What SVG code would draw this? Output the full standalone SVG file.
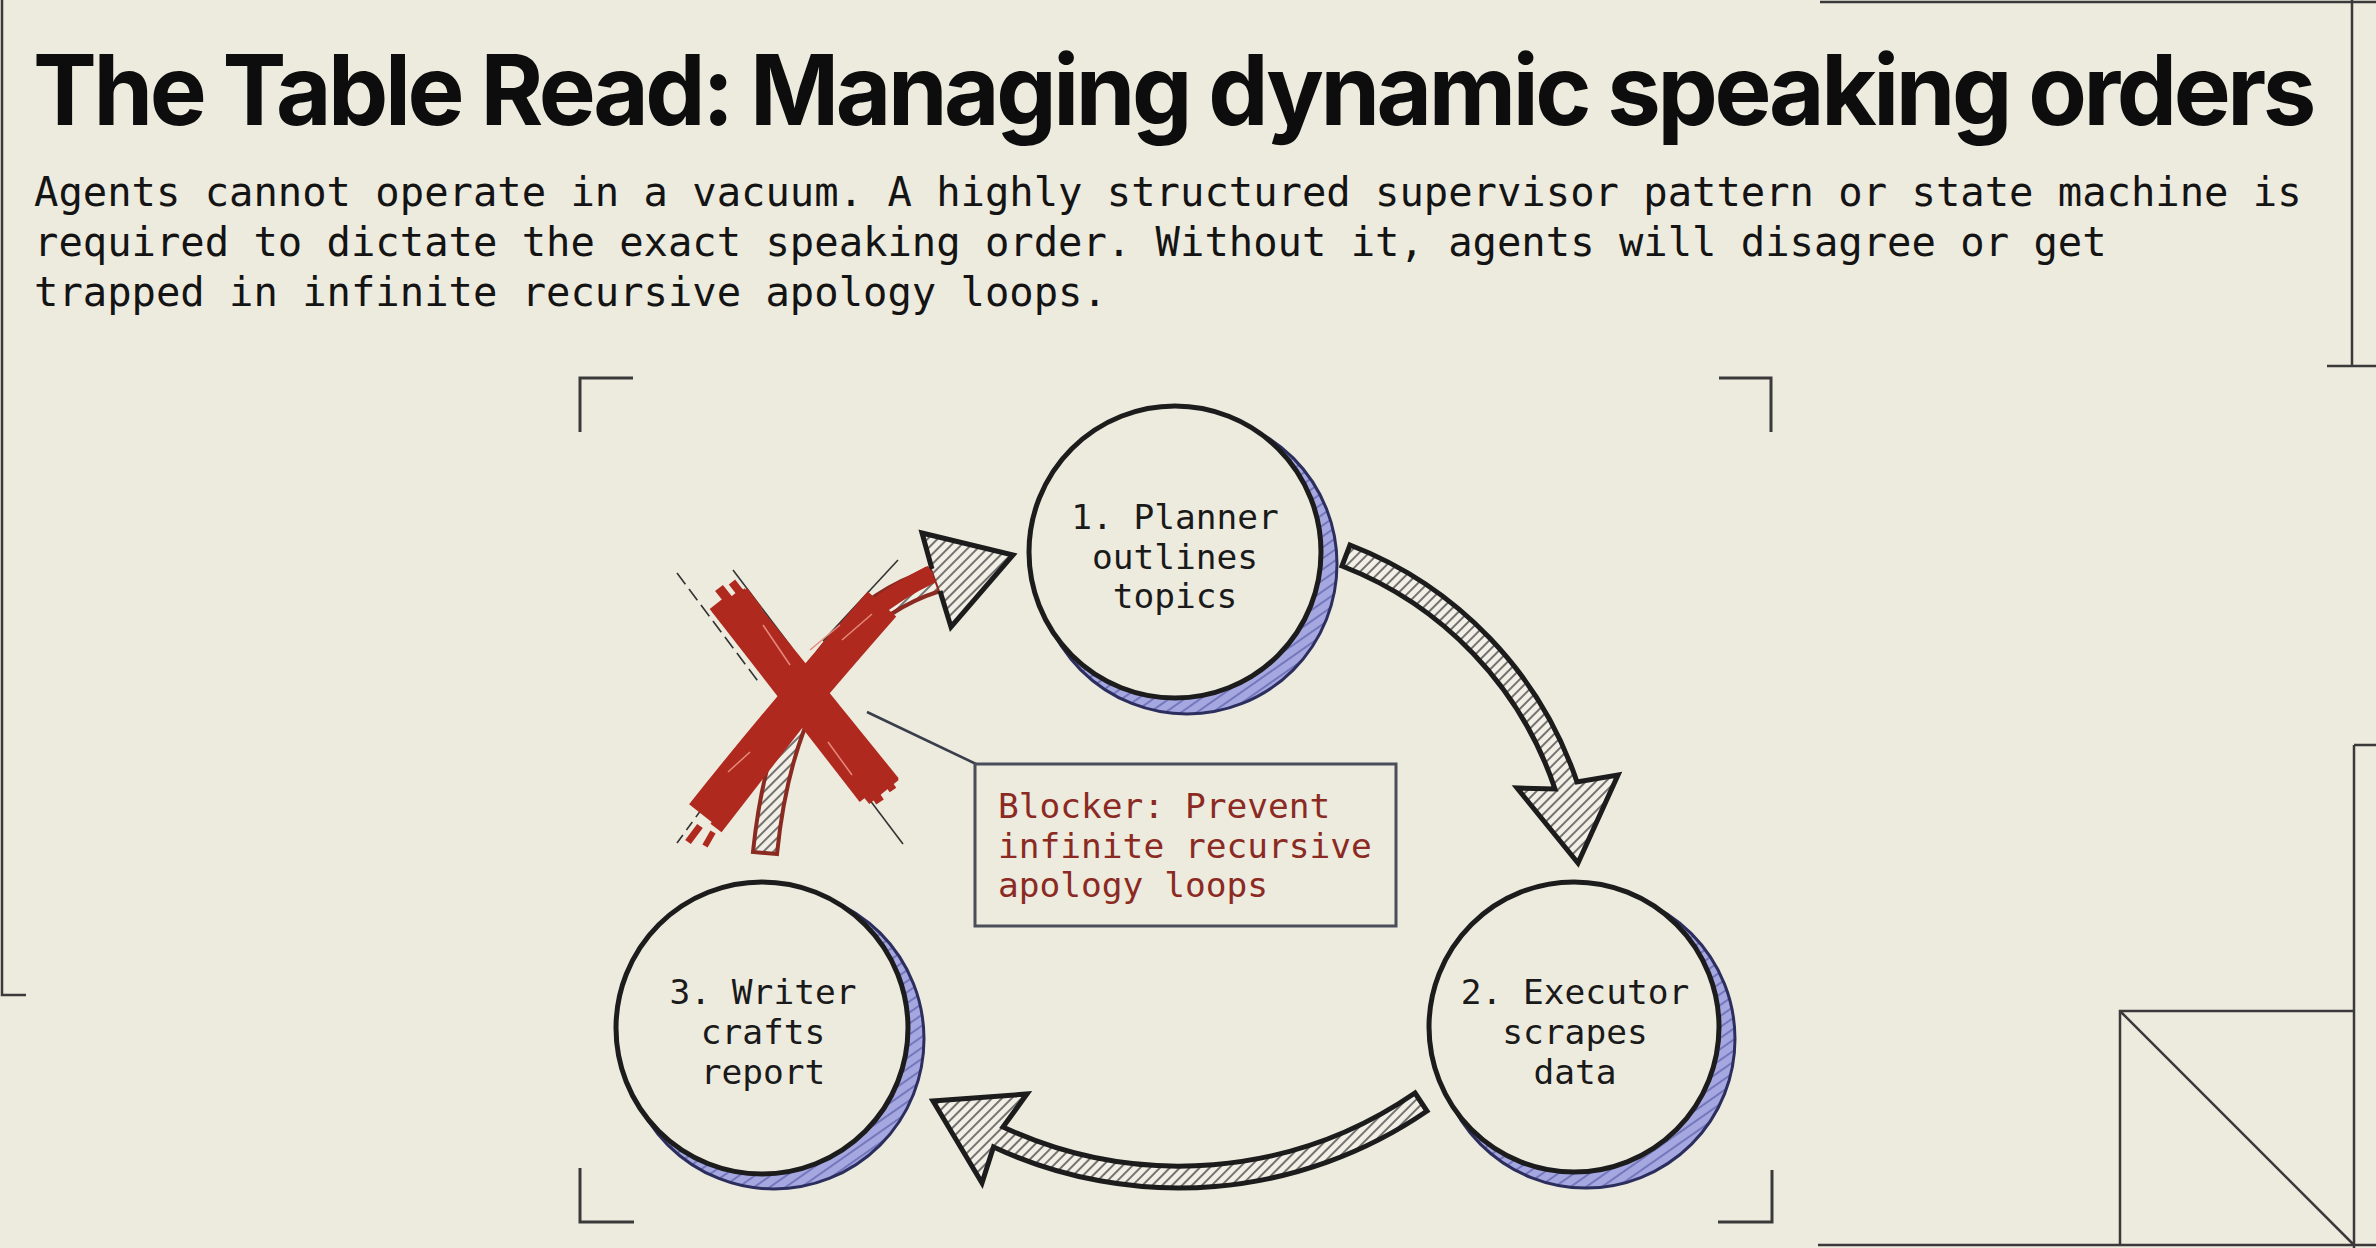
<svg xmlns="http://www.w3.org/2000/svg" width="2376" height="1248" viewBox="0 0 2376 1248">
<defs>
<pattern id="hatch" patternUnits="userSpaceOnUse" width="7" height="7" patternTransform="rotate(45)">
<rect width="7" height="7" fill="#F1EFE6"/>
<line x1="1" y1="0" x2="1" y2="7" stroke="#4a4a4a" stroke-width="1.5"/>
</pattern>
<pattern id="shadeHatch" patternUnits="userSpaceOnUse" width="9" height="9" patternTransform="rotate(55)">
<rect width="9" height="9" fill="#A5A7E0"/>
<line x1="1" y1="0" x2="1" y2="9" stroke="#5A5DA8" stroke-width="1.3"/>
</pattern>
<style>
.frame{fill:none;stroke:#3a3a3a;stroke-width:2.5}
.bracket{fill:none;stroke:#3a3a3a;stroke-width:3}
.title{font-family:Inter,"Liberation Sans",sans-serif;font-weight:700;font-size:98px;letter-spacing:-3.5px;fill:#0d0d0d}
.sub{font-family:"DejaVu Sans Mono","Liberation Mono",monospace;font-size:40.5px;fill:#141414}
.node-text{font-family:"DejaVu Sans Mono","Liberation Mono",monospace;font-size:34.5px;fill:#1a1a1a;text-anchor:middle}
.shadow{fill:url(#shadeHatch);stroke:#2C2E5E;stroke-width:3}
.disc{fill:#EDEADE;stroke:#1c1c1c;stroke-width:5}
.arrow{fill:url(#hatch);stroke:#1c1c1c;stroke-width:5;stroke-linejoin:miter}
.red{fill:none;stroke:#B0291F;stroke-linecap:butt}
.hl{fill:none;stroke:#E58A7C;stroke-width:1.5}
.pencil{fill:none;stroke:#333;stroke-width:1.6}
.blk-text{font-family:"DejaVu Sans Mono","Liberation Mono",monospace;font-size:34.5px;fill:#8B2A23}
</style>
</defs>
<rect width="2376" height="1248" fill="#EDEADE"/>

<g id="frame">
<path class="frame" d="M2,0 V995 H26"/>
<path class="frame" d="M1820,2 H2376 M2352,0 V366 M2327,366 H2376"/>
<path class="frame" d="M1818,1245 H2376 M2354,745 V1248 M2354,745 H2376"/>
<path class="frame" d="M2120,1245 V1011 H2354 M2120,1011 L2354,1245"/>
</g>

<g id="brackets">
<path class="bracket" d="M580,432 V378 H633"/>
<path class="bracket" d="M1719,378 H1771 V432"/>
<path class="bracket" d="M580,1168 V1222 H634"/>
<path class="bracket" d="M1718,1222 H1772 V1170"/>
</g>

<g id="header">
<text class="title" x="33" y="125" textLength="2280" lengthAdjust="spacingAndGlyphs">The Table Read: Managing dynamic speaking orders</text>
<text class="sub" x="34" y="206">Agents cannot operate in a vacuum. A highly structured supervisor pattern or state machine is</text>
<text class="sub" x="34" y="256">required to dictate the exact speaking order. Without it, agents will disagree or get</text>
<text class="sub" x="34" y="306">trapped in infinite recursive apology loops.</text>
</g>

<g id="connectors">
<path id="arrow-1-2" class="arrow" d="M1342,566 L1350,545 A386,386 0 0 1 1577,782 L1618,775 L1578,863 L1517,788 L1555,789 A363,363 0 0 0 1342,566 Z"/>
<path id="arrow-2-3" class="arrow" d="M1415,1093 L1427,1111 A439,439 0 0 1 993.5,1147 L982,1183 L933,1101 L1027,1094 L1003,1127 A417,417 0 0 0 1415,1093 Z"/>
<g id="arrow-3-1">
<path d="M777,854 L753,852 Q777,618 932,569 L940,591 Q799,636 777,854 Z" fill="url(#hatch)" stroke="#8A2A20" stroke-width="4"/>
<path d="M932,569 L922,533 L1013,555 L951,627 L940,591" fill="url(#hatch)" stroke="#1c1c1c" stroke-width="5" stroke-linejoin="miter"/>
</g>
<path id="leader" d="M867,712 L976,764" fill="none" stroke="#3A3D4A" stroke-width="2.5"/>
</g>

<g id="blocker-x">
<path class="pencil" d="M677,573 L760,684" stroke-dasharray="14 6"/>
<path class="pencil" d="M733,570 L792,648"/>
<path class="pencil" d="M898,560 L823,641"/>
<path class="pencil" d="M826,742 L903,844"/>
<path class="pencil" d="M677,843 L712,795" stroke-dasharray="10 6"/>
<path class="red" d="M727,600 L884,792" stroke-width="38"/>
<path class="red" d="M716,604 L866,797" stroke-width="16"/>
<path class="red" d="M740,592 L894,782" stroke-width="12"/>
<path class="red" d="M719,588 L742,617" stroke-width="10"/>
<path class="red" d="M732,582 L752,608" stroke-width="8"/>
<path class="red" d="M745,590 L760,610" stroke-width="6"/>
<path class="red" d="M858,768 L880,802" stroke-width="9"/>
<path class="red" d="M872,760 L893,790" stroke-width="8"/>
<path class="red" d="M704,816 Q780,720 882,604" stroke-width="38"/>
<path class="red" d="M716,828 L860,642" stroke-width="14"/>
<path class="red" d="M696,806 L835,638" stroke-width="12"/>
<path class="red" d="M866,616 Q898,590 932,574" stroke-width="18"/>
<path class="red" d="M880,598 Q905,582 928,570" stroke-width="8"/>
<path class="red" d="M700,826 L688,842" stroke-width="7"/>
<path class="red" d="M713,832 L705,846" stroke-width="6"/>
<path class="hl" d="M763,625 L790,665 M828,742 L852,775 M842,640 L872,614 M728,772 L750,752 M810,650 L840,625"/>
</g>

<g id="node-planner">
<circle class="shadow" cx="1187" cy="564" r="150"/>
<circle class="disc" cx="1175" cy="552" r="146"/>
<text class="node-text" x="1175" y="529">1. Planner</text>
<text class="node-text" x="1175" y="569">outlines</text>
<text class="node-text" x="1175" y="608">topics</text>
</g>

<g id="node-executor">
<circle class="shadow" cx="1586" cy="1039" r="149"/>
<circle class="disc" cx="1574" cy="1027" r="145"/>
<text class="node-text" x="1575" y="1004">2. Executor</text>
<text class="node-text" x="1575" y="1044">scrapes</text>
<text class="node-text" x="1575" y="1084">data</text>
</g>

<g id="node-writer">
<circle class="shadow" cx="774" cy="1039" r="150"/>
<circle class="disc" cx="762" cy="1028" r="146"/>
<text class="node-text" x="763" y="1004">3. Writer</text>
<text class="node-text" x="763" y="1044">crafts</text>
<text class="node-text" x="763" y="1084">report</text>
</g>

<g id="node-blocker">
<rect x="975" y="764" width="421" height="162" fill="#EDEADE" stroke="#4A4D5A" stroke-width="3"/>
<text class="blk-text" x="998" y="818">Blocker: Prevent</text>
<text class="blk-text" x="998" y="858">infinite recursive</text>
<text class="blk-text" x="998" y="897">apology loops</text>
</g>
</svg>
